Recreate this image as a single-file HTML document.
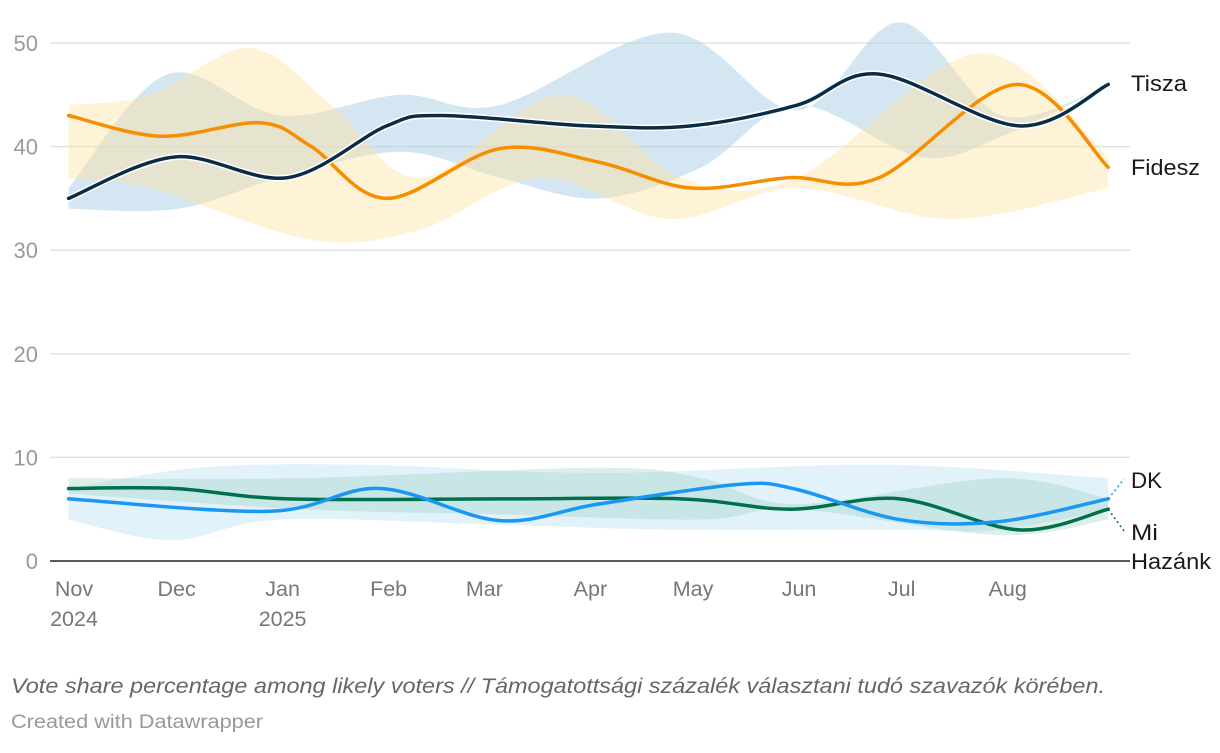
<!DOCTYPE html>
<html><head><meta charset="utf-8">
<style>
body{margin:0;background:#fff;width:1220px;height:748px;overflow:hidden;font-family:"Liberation Sans",sans-serif;}
svg text{font-family:"Liberation Sans",sans-serif;}
</style></head>
<body>
<svg id="chart" width="1220" height="748" viewBox="0 0 1220 748"></svg>
<script>
// data: day offset from 2024-11-01
const yTicks=[0,10,20,30,40,50];
const monthLabels=["Nov","Dec","Jan","Feb","Mar","Apr","May","Jun","Jul","Aug"];
const yearLabels=["2024","","2025","","","","","","",""];
const monthDays=[0,30,61,92,120,151,181,212,242,273];
const tiszaDays=[-1,30,63,92,108,151,181,212,236,277,303];
const tiszaVals=[35,39,37,42,43,42,42,44,47,42,46];
const fideszDays=[-1,26,55,70,92,125,154,181,210,236,276,303];
const fideszVals=[43,41,42.3,40,35,39.8,38.5,36,37,37,46,38];
const tiszaBandDays=[-1,28,61,96,125,175,212,242,272,303];
const tiszaUpper=[36,47,43,45,44,51,43.5,52,43,46];
const tiszaLowDays=[-1,31,61,96,125,154,184,212,248,272,303];
const tiszaLower=[34,34,37,39.5,37,35,38,44,39,41,46];
const fideszBandDays=[-1,23,52,76,102,143,178,212,265,303];
const fideszUpper=[44,45,49.5,44,37,45,37,37,49,39];
const fideszLowDays=[-1,23,70,102,137,175,212,257,303];
const fideszLower=[37,36,31,32,37,33,36,33,36];
const dkDays=[-1,58,90,125,154,195,212,242,271,303];
const dkVals=[6,4.8,7,3.9,5.5,7.4,6.9,4,3.8,6];
const miDays=[-1,30,63,125,178,210,242,277,303];
const miVals=[7,7,6,6,6,5,6,3,5];
const dkUpDays=[-1,37,84,154,236,303];
const dkUpper=[7,9,9.3,8.5,9.3,8];
const dkLowDays=[-1,29,61,125,178,242,271,303];
const dkLower=[4,2,4,3.5,3,3,3,5];
const miUpDays=[-1,67,154,184,212,271,303];
const miUpper=[8,8,9,8,5.5,8,6];
const miLowDays=[-1,67,125,184,212,271,303];
const miLower=[6.5,5,4.5,4,5,2.5,4];

const X=d=>72+d*3.42;
const Y=v=>561-v*10.36;
const svg=document.getElementById('chart');
const NS="http://www.w3.org/2000/svg";
function mk(tag,attrs,parent){const e=document.createElementNS(NS,tag);for(const k in attrs)e.setAttribute(k,attrs[k]);(parent||svg).appendChild(e);return e;}
function pts(days,vals){return days.map((d,i)=>[X(d),Y(vals[i])]);}
function smooth(p,move){let s=(move?"M":"L")+p[0][0]+","+p[0][1];
 for(let i=0;i<p.length-1;i++){const p0=p[i-1]||p[i],p1=p[i],p2=p[i+1],p3=p[i+2]||p2;
  const c1=[p1[0]+(p2[0]-p0[0])/6,p1[1]+(p2[1]-p0[1])/6],c2=[p2[0]-(p3[0]-p1[0])/6,p2[1]-(p3[1]-p1[1])/6];
  s+=`C${c1[0]},${c1[1]} ${c2[0]},${c2[1]} ${p2[0]},${p2[1]}`;}return s;}
function band(ud,uv,ld,lv,fill,op,name){const up=pts(ud,uv),lo=pts(ld,lv).reverse();
 const e=mk('path',{d:smooth(up,true)+smooth(lo,false)+"Z",fill:fill,'fill-opacity':op});
 }
// grid
yTicks.forEach(t=>{
 if(t>0){const g=mk('line',{x1:50,x2:1130,y1:Y(t),y2:Y(t),stroke:'#e2e2e2','stroke-width':1.5});
 }
 const tx=mk('text',{x:38,y:Y(t)+8,'text-anchor':'end','font-size':22,fill:'#9a9a9a'});tx.textContent=t;
 
});
band(tiszaBandDays,tiszaUpper,tiszaLowDays,tiszaLower,'#a9cde3',0.5,'tisza-range');
band(fideszBandDays,fideszUpper,fideszLowDays,fideszLower,'#fde3a7',0.45,'fidesz-range');
band(dkUpDays,dkUpper,dkLowDays,dkLower,'#bfe3f5',0.45,'dk-range');
band(miUpDays,miUpper,miLowDays,miLower,'#8fcbb8',0.3,'mi-hazank-range');
// axis
const ax=mk('line',{x1:50,x2:1130,y1:561,y2:561,stroke:'#222','stroke-width':1.5});

monthLabels.forEach((m,i)=>{
 const t=mk('text',{x:X(monthDays[i])+2,y:596,'text-anchor':'middle','font-size':21.5,fill:'#777'});t.textContent=m;
 
 if(yearLabels[i]){const y=mk('text',{x:X(monthDays[i])+2,y:626,'text-anchor':'middle','font-size':21.5,fill:'#777'});y.textContent=yearLabels[i];
 }
});
function line(days,vals,col,name,outline){const p=smooth(pts(days,vals),true);
 if(outline){const o=mk('path',{d:p,fill:'none',stroke:'#fff','stroke-width':6.5,'stroke-linecap':'round'});
 }
 const e=mk('path',{d:p,fill:'none',stroke:col,'stroke-width':3.5,'stroke-linecap':'round'});
 }
line(fideszDays,fideszVals,'#f68e00','fidesz',false);
line(tiszaDays,tiszaVals,'#0a2d45','tisza',true);
line(miDays,miVals,'#00704a','mi-hazank',false);
line(dkDays,dkVals,'#1a97f5','dk',false);
// leaders
const ex=X(dkDays[dkDays.length-1]);
const l1=mk('path',{d:`M${ex},${Y(dkVals[dkVals.length-1])} L1124,479`,stroke:'#1a97f5','stroke-width':1.5,'stroke-dasharray':'2,3',fill:'none'});

const l2=mk('path',{d:`M${ex},${Y(miVals[miVals.length-1])} L1124,531`,stroke:'#00704a','stroke-width':1.5,'stroke-dasharray':'2,3',fill:'none'});

function lab(txt,x,y,name,w){const t=mk('text',{x:x,y:y,'font-size':22.5,fill:'#1a1a1a',textLength:w,lengthAdjust:'spacingAndGlyphs'});t.textContent=txt;
 }
lab('Tisza',1131,91,'tisza-label',56);lab('Fidesz',1131,175,'fidesz-label',69);
lab('DK',1131,488,'dk-label',31);lab('Mi',1131,540,'mi-hazank-label',27);lab('Hazánk',1131,569,'mi-hazank-label-2',80);
const c=mk('text',{x:11,y:693,'font-size':21.5,'font-style':'italic',fill:'#666',textLength:1094,lengthAdjust:'spacingAndGlyphs'});
c.textContent='Vote share percentage among likely voters // Támogatottsági százalék választani tudó szavazók körében.';

const cr=mk('text',{x:11,y:728,'font-size':19,fill:'#999',textLength:252,lengthAdjust:'spacingAndGlyphs'});cr.textContent='Created with Datawrapper';

</script>
</body></html>
